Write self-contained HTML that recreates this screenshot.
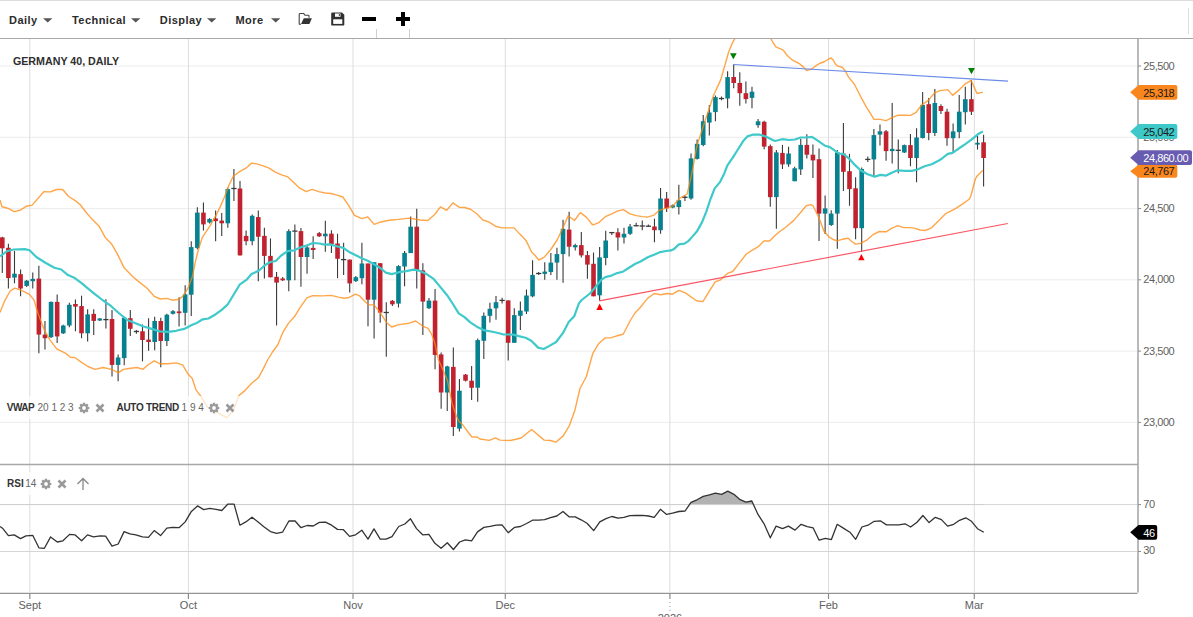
<!DOCTYPE html>
<html><head><meta charset="utf-8"><style>
html,body{margin:0;padding:0;background:#fff;}
body{width:1193px;height:617px;overflow:hidden;position:relative;font-family:"Liberation Sans",sans-serif;}
.ax{font-family:"Liberation Sans",sans-serif;font-size:11px;fill:#5f5f5f;letter-spacing:-0.45px;}
.tg{font-family:"Liberation Sans",sans-serif;font-size:11px;letter-spacing:-0.45px;}
.xl{font-family:"Liberation Sans",sans-serif;font-size:11px;fill:#606060;}
.tb{position:absolute;top:0;left:0;width:1193px;height:38px;border-top:1px solid #dbdddb;box-sizing:border-box;}
.mi{position:absolute;top:13.6px;font-size:11px;letter-spacing:0.45px;font-weight:bold;color:#2b2b2b;white-space:nowrap;}
.ar{position:absolute;top:18px;width:10px;height:5px;}
.bl{position:absolute;left:0;top:38px;width:1193px;height:1px;background:#a8a8a8;}
.lg{position:absolute;font-size:10px;white-space:nowrap;color:#333;background:transparent;}
.lg b{color:#333;letter-spacing:-0.5px;}
.lg.n{color:#666;}
</style></head><body>
<div class="tb"></div>
<svg width="1193" height="617" viewBox="0 0 1193 617" style="position:absolute;left:0;top:0"><defs><clipPath id="cm"><rect x="0" y="39" width="1137" height="425"/></clipPath><clipPath id="cr"><rect x="0" y="465" width="1137" height="127"/></clipPath></defs><line x1="0" y1="66" x2="1137" y2="66" stroke="#ececec" stroke-width="1"/><line x1="0" y1="137.3" x2="1137" y2="137.3" stroke="#ececec" stroke-width="1"/><line x1="0" y1="208.6" x2="1137" y2="208.6" stroke="#ececec" stroke-width="1"/><line x1="0" y1="279.8" x2="1137" y2="279.8" stroke="#ececec" stroke-width="1"/><line x1="0" y1="351.1" x2="1137" y2="351.1" stroke="#ececec" stroke-width="1"/><line x1="0" y1="422.4" x2="1137" y2="422.4" stroke="#ececec" stroke-width="1"/><line x1="29.8" y1="39" x2="29.8" y2="592" stroke="#dcdcdc" stroke-width="1"/><line x1="188.4" y1="39" x2="188.4" y2="592" stroke="#dcdcdc" stroke-width="1"/><line x1="353.0" y1="39" x2="353.0" y2="592" stroke="#dcdcdc" stroke-width="1"/><line x1="505.3" y1="39" x2="505.3" y2="592" stroke="#dcdcdc" stroke-width="1"/><line x1="669.9" y1="39" x2="669.9" y2="592" stroke="#dcdcdc" stroke-width="1"/><line x1="828.5" y1="39" x2="828.5" y2="592" stroke="#dcdcdc" stroke-width="1"/><line x1="974.3" y1="39" x2="974.3" y2="592" stroke="#dcdcdc" stroke-width="1"/><line x1="0" y1="504.6" x2="1137" y2="504.6" stroke="#d6d6d6" stroke-width="1"/><line x1="0" y1="551.5" x2="1137" y2="551.5" stroke="#d6d6d6" stroke-width="1"/><g clip-path="url(#cm)"><line x1="2.30" y1="236.7" x2="2.30" y2="272.9" stroke="#3a3a3a" stroke-width="1.1"/><rect x="0.00" y="237.4" width="4.6" height="10.9" fill="#c1222f"/><line x1="8.39" y1="243.7" x2="8.39" y2="288.5" stroke="#3a3a3a" stroke-width="1.1"/><rect x="6.09" y="247.8" width="4.6" height="30.3" fill="#c1222f"/><line x1="14.49" y1="250.9" x2="14.49" y2="283.3" stroke="#3a3a3a" stroke-width="1.1"/><rect x="12.19" y="273.7" width="4.6" height="3.9" fill="#07818f"/><line x1="20.59" y1="269.6" x2="20.59" y2="296.2" stroke="#3a3a3a" stroke-width="1.1"/><rect x="18.29" y="274.2" width="4.6" height="14.3" fill="#c1222f"/><line x1="26.68" y1="280.0" x2="26.68" y2="287.0" stroke="#3a3a3a" stroke-width="1.1"/><rect x="24.38" y="280.7" width="4.6" height="5.2" fill="#07818f"/><line x1="32.77" y1="272.4" x2="32.77" y2="288.5" stroke="#3a3a3a" stroke-width="1.1"/><rect x="30.47" y="278.9" width="4.6" height="2.3" fill="#07818f"/><line x1="38.87" y1="265.7" x2="38.87" y2="353.2" stroke="#3a3a3a" stroke-width="1.1"/><rect x="36.57" y="278.6" width="4.6" height="56.0" fill="#c1222f"/><line x1="44.96" y1="320.9" x2="44.96" y2="349.4" stroke="#3a3a3a" stroke-width="1.1"/><rect x="42.66" y="334.6" width="4.6" height="3.6" fill="#c1222f"/><line x1="51.06" y1="301.4" x2="51.06" y2="338.0" stroke="#3a3a3a" stroke-width="1.1"/><rect x="48.76" y="301.9" width="4.6" height="35.3" fill="#07818f"/><line x1="57.15" y1="294.4" x2="57.15" y2="342.9" stroke="#3a3a3a" stroke-width="1.1"/><rect x="54.85" y="301.9" width="4.6" height="34.5" fill="#c1222f"/><line x1="63.25" y1="324.7" x2="63.25" y2="334.0" stroke="#3a3a3a" stroke-width="1.1"/><rect x="60.95" y="325.5" width="4.6" height="7.8" fill="#07818f"/><line x1="69.34" y1="302.7" x2="69.34" y2="327.3" stroke="#3a3a3a" stroke-width="1.1"/><rect x="67.05" y="304.8" width="4.6" height="20.7" fill="#07818f"/><line x1="75.44" y1="299.6" x2="75.44" y2="331.2" stroke="#3a3a3a" stroke-width="1.1"/><rect x="73.14" y="304.0" width="4.6" height="2.6" fill="#c1222f"/><line x1="81.53" y1="295.7" x2="81.53" y2="338.2" stroke="#3a3a3a" stroke-width="1.1"/><rect x="79.23" y="306.1" width="4.6" height="27.2" fill="#c1222f"/><line x1="87.63" y1="309.2" x2="87.63" y2="341.6" stroke="#3a3a3a" stroke-width="1.1"/><rect x="85.33" y="314.4" width="4.6" height="18.9" fill="#07818f"/><line x1="93.72" y1="309.2" x2="93.72" y2="335.1" stroke="#3a3a3a" stroke-width="1.1"/><rect x="91.42" y="313.9" width="4.6" height="7.0" fill="#c1222f"/><line x1="99.82" y1="318.0" x2="99.82" y2="321.0" stroke="#3a3a3a" stroke-width="1.1"/><rect x="97.52" y="318.5" width="4.6" height="2.0" fill="#07818f"/><line x1="105.91" y1="299.2" x2="105.91" y2="328.4" stroke="#3a3a3a" stroke-width="1.1"/><line x1="103.31" y1="319.6" x2="108.51" y2="319.6" stroke="#3a3a3a" stroke-width="1.3"/><line x1="112.01" y1="309.9" x2="112.01" y2="376.6" stroke="#3a3a3a" stroke-width="1.1"/><rect x="109.71" y="319.0" width="4.6" height="45.9" fill="#c1222f"/><line x1="118.10" y1="354.6" x2="118.10" y2="381.3" stroke="#3a3a3a" stroke-width="1.1"/><rect x="115.80" y="357.5" width="4.6" height="7.4" fill="#07818f"/><line x1="124.20" y1="316.7" x2="124.20" y2="365.3" stroke="#3a3a3a" stroke-width="1.1"/><rect x="121.90" y="317.7" width="4.6" height="40.4" fill="#07818f"/><line x1="130.29" y1="309.9" x2="130.29" y2="336.1" stroke="#3a3a3a" stroke-width="1.1"/><rect x="127.99" y="318.2" width="4.6" height="10.6" fill="#c1222f"/><line x1="136.39" y1="330.0" x2="136.39" y2="333.8" stroke="#3a3a3a" stroke-width="1.1"/><line x1="133.79" y1="331.5" x2="138.99" y2="331.5" stroke="#3a3a3a" stroke-width="1.3"/><line x1="142.49" y1="324.5" x2="142.49" y2="361.4" stroke="#3a3a3a" stroke-width="1.1"/><rect x="140.19" y="331.3" width="4.6" height="8.7" fill="#c1222f"/><line x1="148.58" y1="318.2" x2="148.58" y2="350.7" stroke="#3a3a3a" stroke-width="1.1"/><rect x="146.28" y="339.6" width="4.6" height="2.4" fill="#c1222f"/><line x1="154.68" y1="316.7" x2="154.68" y2="350.2" stroke="#3a3a3a" stroke-width="1.1"/><rect x="152.38" y="321.0" width="4.6" height="21.0" fill="#07818f"/><line x1="160.77" y1="317.7" x2="160.77" y2="367.3" stroke="#3a3a3a" stroke-width="1.1"/><rect x="158.47" y="321.0" width="4.6" height="20.0" fill="#c1222f"/><line x1="166.87" y1="313.8" x2="166.87" y2="345.9" stroke="#3a3a3a" stroke-width="1.1"/><rect x="164.56" y="314.7" width="4.6" height="26.3" fill="#07818f"/><line x1="172.96" y1="310.0" x2="172.96" y2="314.5" stroke="#3a3a3a" stroke-width="1.1"/><rect x="170.66" y="311.2" width="4.6" height="2.6" fill="#07818f"/><line x1="179.06" y1="297.2" x2="179.06" y2="326.4" stroke="#3a3a3a" stroke-width="1.1"/><rect x="176.75" y="311.4" width="4.6" height="1.8" fill="#c1222f"/><line x1="185.15" y1="285.2" x2="185.15" y2="325.4" stroke="#3a3a3a" stroke-width="1.1"/><rect x="182.85" y="294.3" width="4.6" height="18.5" fill="#07818f"/><line x1="191.25" y1="241.2" x2="191.25" y2="316.1" stroke="#3a3a3a" stroke-width="1.1"/><rect x="188.94" y="247.1" width="4.6" height="47.6" fill="#07818f"/><line x1="197.34" y1="207.2" x2="197.34" y2="249.2" stroke="#3a3a3a" stroke-width="1.1"/><rect x="195.04" y="212.6" width="4.6" height="35.3" fill="#07818f"/><line x1="203.44" y1="202.4" x2="203.44" y2="230.5" stroke="#3a3a3a" stroke-width="1.1"/><rect x="201.13" y="212.6" width="4.6" height="11.8" fill="#c1222f"/><line x1="209.53" y1="218.0" x2="209.53" y2="223.5" stroke="#3a3a3a" stroke-width="1.1"/><rect x="207.23" y="219.0" width="4.6" height="3.5" fill="#07818f"/><line x1="215.62" y1="210.5" x2="215.62" y2="241.2" stroke="#3a3a3a" stroke-width="1.1"/><rect x="213.32" y="218.5" width="4.6" height="2.6" fill="#c1222f"/><line x1="221.72" y1="213.1" x2="221.72" y2="235.9" stroke="#3a3a3a" stroke-width="1.1"/><rect x="219.42" y="220.6" width="4.6" height="2.7" fill="#c1222f"/><line x1="227.81" y1="187.7" x2="227.81" y2="227.8" stroke="#3a3a3a" stroke-width="1.1"/><rect x="225.51" y="189.1" width="4.6" height="34.2" fill="#07818f"/><line x1="233.91" y1="169.0" x2="233.91" y2="201.1" stroke="#3a3a3a" stroke-width="1.1"/><line x1="231.31" y1="188.5" x2="236.51" y2="188.5" stroke="#3a3a3a" stroke-width="1.3"/><line x1="240.00" y1="181.0" x2="240.00" y2="255.4" stroke="#3a3a3a" stroke-width="1.1"/><rect x="237.70" y="188.5" width="4.6" height="66.9" fill="#c1222f"/><line x1="246.10" y1="230.5" x2="246.10" y2="245.2" stroke="#3a3a3a" stroke-width="1.1"/><rect x="243.80" y="235.9" width="4.6" height="5.3" fill="#c1222f"/><line x1="252.19" y1="214.5" x2="252.19" y2="245.2" stroke="#3a3a3a" stroke-width="1.1"/><rect x="249.89" y="215.8" width="4.6" height="25.4" fill="#07818f"/><line x1="258.29" y1="210.5" x2="258.29" y2="281.3" stroke="#3a3a3a" stroke-width="1.1"/><rect x="255.99" y="217.1" width="4.6" height="19.6" fill="#c1222f"/><line x1="264.38" y1="227.8" x2="264.38" y2="278.6" stroke="#3a3a3a" stroke-width="1.1"/><rect x="262.08" y="235.9" width="4.6" height="20.0" fill="#c1222f"/><line x1="270.48" y1="238.5" x2="270.48" y2="277.3" stroke="#3a3a3a" stroke-width="1.1"/><rect x="268.18" y="255.9" width="4.6" height="21.4" fill="#c1222f"/><line x1="276.57" y1="272.0" x2="276.57" y2="325.4" stroke="#3a3a3a" stroke-width="1.1"/><rect x="274.27" y="276.8" width="4.6" height="5.8" fill="#c1222f"/><line x1="282.67" y1="277.0" x2="282.67" y2="281.0" stroke="#3a3a3a" stroke-width="1.1"/><rect x="280.37" y="278.5" width="4.6" height="1.8" fill="#c1222f"/><line x1="288.76" y1="229.3" x2="288.76" y2="291.2" stroke="#3a3a3a" stroke-width="1.1"/><rect x="286.46" y="231.1" width="4.6" height="49.2" fill="#07818f"/><line x1="294.86" y1="224.6" x2="294.86" y2="280.3" stroke="#3a3a3a" stroke-width="1.1"/><line x1="292.26" y1="231.1" x2="297.46" y2="231.1" stroke="#3a3a3a" stroke-width="1.3"/><line x1="300.95" y1="228.0" x2="300.95" y2="286.8" stroke="#3a3a3a" stroke-width="1.1"/><rect x="298.65" y="231.1" width="4.6" height="25.9" fill="#c1222f"/><line x1="307.05" y1="246.1" x2="307.05" y2="273.8" stroke="#3a3a3a" stroke-width="1.1"/><rect x="304.75" y="247.4" width="4.6" height="9.6" fill="#07818f"/><line x1="313.14" y1="236.3" x2="313.14" y2="259.1" stroke="#3a3a3a" stroke-width="1.1"/><rect x="310.84" y="247.9" width="4.6" height="2.1" fill="#c1222f"/><line x1="319.24" y1="232.0" x2="319.24" y2="237.0" stroke="#3a3a3a" stroke-width="1.1"/><rect x="316.94" y="233.2" width="4.6" height="3.1" fill="#c1222f"/><line x1="325.33" y1="220.7" x2="325.33" y2="251.8" stroke="#3a3a3a" stroke-width="1.1"/><rect x="323.03" y="233.7" width="4.6" height="2.6" fill="#07818f"/><line x1="331.43" y1="230.3" x2="331.43" y2="253.1" stroke="#3a3a3a" stroke-width="1.1"/><rect x="329.13" y="233.7" width="4.6" height="10.3" fill="#c1222f"/><line x1="337.52" y1="233.7" x2="337.52" y2="278.2" stroke="#3a3a3a" stroke-width="1.1"/><rect x="335.22" y="243.5" width="4.6" height="15.3" fill="#c1222f"/><line x1="343.62" y1="242.7" x2="343.62" y2="275.1" stroke="#3a3a3a" stroke-width="1.1"/><line x1="341.02" y1="259.6" x2="346.22" y2="259.6" stroke="#3a3a3a" stroke-width="1.3"/><line x1="349.71" y1="259.6" x2="349.71" y2="292.5" stroke="#3a3a3a" stroke-width="1.1"/><rect x="347.41" y="259.6" width="4.6" height="23.8" fill="#c1222f"/><line x1="355.81" y1="276.0" x2="355.81" y2="282.0" stroke="#3a3a3a" stroke-width="1.1"/><rect x="353.51" y="277.2" width="4.6" height="3.9" fill="#07818f"/><line x1="361.90" y1="242.7" x2="361.90" y2="284.2" stroke="#3a3a3a" stroke-width="1.1"/><rect x="359.60" y="263.5" width="4.6" height="14.7" fill="#07818f"/><line x1="368.00" y1="263.5" x2="368.00" y2="326.2" stroke="#3a3a3a" stroke-width="1.1"/><rect x="365.70" y="263.5" width="4.6" height="36.2" fill="#c1222f"/><line x1="374.09" y1="262.2" x2="374.09" y2="338.6" stroke="#3a3a3a" stroke-width="1.1"/><rect x="371.79" y="262.2" width="4.6" height="37.5" fill="#07818f"/><line x1="380.19" y1="263.2" x2="380.19" y2="322.7" stroke="#3a3a3a" stroke-width="1.1"/><rect x="377.89" y="263.2" width="4.6" height="49.4" fill="#c1222f"/><line x1="386.28" y1="302.2" x2="386.28" y2="356.7" stroke="#3a3a3a" stroke-width="1.1"/><line x1="383.68" y1="312.5" x2="388.88" y2="312.5" stroke="#3a3a3a" stroke-width="1.3"/><line x1="392.38" y1="300.0" x2="392.38" y2="306.0" stroke="#3a3a3a" stroke-width="1.1"/><rect x="390.08" y="300.8" width="4.6" height="3.5" fill="#c1222f"/><line x1="398.48" y1="265.2" x2="398.48" y2="307.5" stroke="#3a3a3a" stroke-width="1.1"/><rect x="396.18" y="266.1" width="4.6" height="37.5" fill="#07818f"/><line x1="404.57" y1="251.0" x2="404.57" y2="286.2" stroke="#3a3a3a" stroke-width="1.1"/><rect x="402.27" y="252.9" width="4.6" height="13.6" fill="#07818f"/><line x1="410.67" y1="216.5" x2="410.67" y2="253.1" stroke="#3a3a3a" stroke-width="1.1"/><rect x="408.37" y="226.7" width="4.6" height="26.4" fill="#07818f"/><line x1="416.76" y1="208.8" x2="416.76" y2="288.5" stroke="#3a3a3a" stroke-width="1.1"/><rect x="414.46" y="226.7" width="4.6" height="43.3" fill="#c1222f"/><line x1="422.86" y1="263.2" x2="422.86" y2="335.1" stroke="#3a3a3a" stroke-width="1.1"/><rect x="420.56" y="270.4" width="4.6" height="31.2" fill="#c1222f"/><line x1="428.95" y1="297.9" x2="428.95" y2="309.0" stroke="#3a3a3a" stroke-width="1.1"/><rect x="426.65" y="300.6" width="4.6" height="7.6" fill="#07818f"/><line x1="435.05" y1="289.1" x2="435.05" y2="369.2" stroke="#3a3a3a" stroke-width="1.1"/><rect x="432.75" y="300.6" width="4.6" height="54.3" fill="#c1222f"/><line x1="441.14" y1="352.6" x2="441.14" y2="408.8" stroke="#3a3a3a" stroke-width="1.1"/><rect x="438.84" y="354.4" width="4.6" height="38.1" fill="#c1222f"/><line x1="447.24" y1="365.8" x2="447.24" y2="411.1" stroke="#3a3a3a" stroke-width="1.1"/><rect x="444.94" y="366.4" width="4.6" height="26.1" fill="#07818f"/><line x1="453.33" y1="347.6" x2="453.33" y2="436.1" stroke="#3a3a3a" stroke-width="1.1"/><rect x="451.03" y="366.9" width="4.6" height="60.1" fill="#c1222f"/><line x1="459.43" y1="378.9" x2="459.43" y2="431.5" stroke="#3a3a3a" stroke-width="1.1"/><rect x="457.12" y="390.7" width="4.6" height="37.9" fill="#07818f"/><line x1="465.52" y1="374.0" x2="465.52" y2="381.5" stroke="#3a3a3a" stroke-width="1.1"/><rect x="463.22" y="374.6" width="4.6" height="6.1" fill="#c1222f"/><line x1="471.62" y1="366.0" x2="471.62" y2="400.0" stroke="#3a3a3a" stroke-width="1.1"/><rect x="469.31" y="380.7" width="4.6" height="7.1" fill="#c1222f"/><line x1="477.71" y1="338.5" x2="477.71" y2="401.8" stroke="#3a3a3a" stroke-width="1.1"/><rect x="475.41" y="340.1" width="4.6" height="47.6" fill="#07818f"/><line x1="483.81" y1="312.4" x2="483.81" y2="358.9" stroke="#3a3a3a" stroke-width="1.1"/><rect x="481.50" y="315.8" width="4.6" height="25.0" fill="#07818f"/><line x1="489.90" y1="302.7" x2="489.90" y2="322.6" stroke="#3a3a3a" stroke-width="1.1"/><rect x="487.60" y="308.8" width="4.6" height="7.0" fill="#07818f"/><line x1="496.00" y1="295.9" x2="496.00" y2="319.7" stroke="#3a3a3a" stroke-width="1.1"/><rect x="493.69" y="302.2" width="4.6" height="6.1" fill="#07818f"/><line x1="502.09" y1="297.7" x2="502.09" y2="303.4" stroke="#3a3a3a" stroke-width="1.1"/><line x1="499.49" y1="300.4" x2="504.69" y2="300.4" stroke="#3a3a3a" stroke-width="1.3"/><line x1="508.19" y1="300.4" x2="508.19" y2="360.5" stroke="#3a3a3a" stroke-width="1.1"/><rect x="505.88" y="300.4" width="4.6" height="42.4" fill="#c1222f"/><line x1="514.28" y1="308.3" x2="514.28" y2="342.8" stroke="#3a3a3a" stroke-width="1.1"/><rect x="511.98" y="315.1" width="4.6" height="27.7" fill="#07818f"/><line x1="520.37" y1="301.5" x2="520.37" y2="329.9" stroke="#3a3a3a" stroke-width="1.1"/><rect x="518.07" y="310.6" width="4.6" height="5.2" fill="#07818f"/><line x1="526.47" y1="289.5" x2="526.47" y2="314.0" stroke="#3a3a3a" stroke-width="1.1"/><rect x="524.17" y="295.5" width="4.6" height="16.0" fill="#07818f"/><line x1="532.56" y1="260.3" x2="532.56" y2="297.3" stroke="#3a3a3a" stroke-width="1.1"/><rect x="530.26" y="274.9" width="4.6" height="21.4" fill="#07818f"/><line x1="538.66" y1="272.0" x2="538.66" y2="275.0" stroke="#3a3a3a" stroke-width="1.1"/><line x1="536.06" y1="273.5" x2="541.26" y2="273.5" stroke="#3a3a3a" stroke-width="1.3"/><line x1="544.75" y1="262.3" x2="544.75" y2="279.8" stroke="#3a3a3a" stroke-width="1.1"/><rect x="542.45" y="271.6" width="4.6" height="2.3" fill="#07818f"/><line x1="550.85" y1="252.9" x2="550.85" y2="274.9" stroke="#3a3a3a" stroke-width="1.1"/><rect x="548.55" y="262.6" width="4.6" height="9.4" fill="#07818f"/><line x1="556.94" y1="247.7" x2="556.94" y2="279.8" stroke="#3a3a3a" stroke-width="1.1"/><rect x="554.64" y="254.1" width="4.6" height="8.5" fill="#07818f"/><line x1="563.04" y1="219.8" x2="563.04" y2="282.7" stroke="#3a3a3a" stroke-width="1.1"/><rect x="560.74" y="228.8" width="4.6" height="25.3" fill="#07818f"/><line x1="569.13" y1="211.7" x2="569.13" y2="256.4" stroke="#3a3a3a" stroke-width="1.1"/><rect x="566.83" y="229.6" width="4.6" height="17.1" fill="#c1222f"/><line x1="575.23" y1="243.8" x2="575.23" y2="250.6" stroke="#3a3a3a" stroke-width="1.1"/><rect x="572.93" y="245.1" width="4.6" height="2.2" fill="#07818f"/><line x1="581.32" y1="232.1" x2="581.32" y2="257.4" stroke="#3a3a3a" stroke-width="1.1"/><rect x="579.02" y="245.1" width="4.6" height="10.3" fill="#c1222f"/><line x1="587.42" y1="251.0" x2="587.42" y2="278.8" stroke="#3a3a3a" stroke-width="1.1"/><rect x="585.12" y="255.1" width="4.6" height="9.5" fill="#c1222f"/><line x1="593.51" y1="252.5" x2="593.51" y2="296.3" stroke="#3a3a3a" stroke-width="1.1"/><rect x="591.22" y="263.8" width="4.6" height="32.5" fill="#c1222f"/><line x1="599.61" y1="247.1" x2="599.61" y2="300.8" stroke="#3a3a3a" stroke-width="1.1"/><rect x="597.31" y="257.4" width="4.6" height="37.9" fill="#07818f"/><line x1="605.70" y1="230.7" x2="605.70" y2="265.2" stroke="#3a3a3a" stroke-width="1.1"/><rect x="603.40" y="240.5" width="4.6" height="17.5" fill="#07818f"/><line x1="611.80" y1="232.0" x2="611.80" y2="235.0" stroke="#3a3a3a" stroke-width="1.1"/><line x1="609.20" y1="232.6" x2="614.40" y2="232.6" stroke="#3a3a3a" stroke-width="1.3"/><line x1="617.89" y1="228.3" x2="617.89" y2="250.6" stroke="#3a3a3a" stroke-width="1.1"/><rect x="615.60" y="232.3" width="4.6" height="5.2" fill="#c1222f"/><line x1="623.99" y1="227.7" x2="623.99" y2="243.6" stroke="#3a3a3a" stroke-width="1.1"/><rect x="621.69" y="233.8" width="4.6" height="3.7" fill="#07818f"/><line x1="630.08" y1="224.1" x2="630.08" y2="235.0" stroke="#3a3a3a" stroke-width="1.1"/><rect x="627.78" y="226.5" width="4.6" height="7.3" fill="#07818f"/><line x1="636.18" y1="222.7" x2="636.18" y2="226.2" stroke="#3a3a3a" stroke-width="1.1"/><line x1="633.58" y1="225.7" x2="638.78" y2="225.7" stroke="#3a3a3a" stroke-width="1.3"/><line x1="642.27" y1="220.4" x2="642.27" y2="230.2" stroke="#3a3a3a" stroke-width="1.1"/><line x1="639.67" y1="226.0" x2="644.88" y2="226.0" stroke="#3a3a3a" stroke-width="1.3"/><line x1="648.37" y1="224.5" x2="648.37" y2="226.7" stroke="#3a3a3a" stroke-width="1.1"/><line x1="645.77" y1="226.2" x2="650.97" y2="226.2" stroke="#3a3a3a" stroke-width="1.3"/><line x1="654.46" y1="218.7" x2="654.46" y2="242.3" stroke="#3a3a3a" stroke-width="1.1"/><rect x="652.16" y="226.5" width="4.6" height="3.7" fill="#c1222f"/><line x1="660.56" y1="188.1" x2="660.56" y2="233.8" stroke="#3a3a3a" stroke-width="1.1"/><rect x="658.26" y="198.5" width="4.6" height="31.7" fill="#07818f"/><line x1="666.65" y1="192.0" x2="666.65" y2="211.9" stroke="#3a3a3a" stroke-width="1.1"/><rect x="664.36" y="198.5" width="4.6" height="9.8" fill="#c1222f"/><line x1="672.75" y1="204.6" x2="672.75" y2="208.3" stroke="#3a3a3a" stroke-width="1.1"/><rect x="670.45" y="205.3" width="4.6" height="2.2" fill="#07818f"/><line x1="678.84" y1="184.7" x2="678.84" y2="214.4" stroke="#3a3a3a" stroke-width="1.1"/><rect x="676.54" y="200.2" width="4.6" height="6.9" fill="#07818f"/><line x1="684.94" y1="195.4" x2="684.94" y2="201.0" stroke="#3a3a3a" stroke-width="1.1"/><line x1="682.34" y1="197.3" x2="687.54" y2="197.3" stroke="#3a3a3a" stroke-width="1.3"/><line x1="691.03" y1="153.5" x2="691.03" y2="199.8" stroke="#3a3a3a" stroke-width="1.1"/><rect x="688.74" y="158.4" width="4.6" height="40.1" fill="#07818f"/><line x1="697.13" y1="139.4" x2="697.13" y2="159.6" stroke="#3a3a3a" stroke-width="1.1"/><rect x="694.83" y="143.8" width="4.6" height="15.1" fill="#07818f"/><line x1="703.22" y1="115.1" x2="703.22" y2="146.2" stroke="#3a3a3a" stroke-width="1.1"/><rect x="700.92" y="121.2" width="4.6" height="23.8" fill="#07818f"/><line x1="709.32" y1="105.1" x2="709.32" y2="135.4" stroke="#3a3a3a" stroke-width="1.1"/><rect x="707.02" y="112.5" width="4.6" height="10.1" fill="#07818f"/><line x1="715.41" y1="95.6" x2="715.41" y2="121.3" stroke="#3a3a3a" stroke-width="1.1"/><rect x="713.12" y="97.1" width="4.6" height="15.0" fill="#07818f"/><line x1="721.51" y1="96.5" x2="721.51" y2="100.3" stroke="#3a3a3a" stroke-width="1.1"/><line x1="718.91" y1="98.5" x2="724.11" y2="98.5" stroke="#3a3a3a" stroke-width="1.3"/><line x1="727.60" y1="71.3" x2="727.60" y2="108.2" stroke="#3a3a3a" stroke-width="1.1"/><rect x="725.30" y="77.1" width="4.6" height="21.4" fill="#07818f"/><line x1="733.70" y1="64.5" x2="733.70" y2="88.3" stroke="#3a3a3a" stroke-width="1.1"/><rect x="731.40" y="77.0" width="4.6" height="6.0" fill="#c1222f"/><line x1="739.79" y1="72.2" x2="739.79" y2="105.7" stroke="#3a3a3a" stroke-width="1.1"/><rect x="737.50" y="82.9" width="4.6" height="10.3" fill="#c1222f"/><line x1="745.89" y1="81.6" x2="745.89" y2="103.4" stroke="#3a3a3a" stroke-width="1.1"/><rect x="743.59" y="93.2" width="4.6" height="5.9" fill="#c1222f"/><line x1="751.98" y1="86.8" x2="751.98" y2="108.2" stroke="#3a3a3a" stroke-width="1.1"/><rect x="749.68" y="91.7" width="4.6" height="6.2" fill="#07818f"/><line x1="758.08" y1="118.9" x2="758.08" y2="127.7" stroke="#3a3a3a" stroke-width="1.1"/><rect x="755.78" y="121.3" width="4.6" height="3.9" fill="#07818f"/><line x1="764.17" y1="120.7" x2="764.17" y2="149.3" stroke="#3a3a3a" stroke-width="1.1"/><rect x="761.88" y="121.8" width="4.6" height="24.8" fill="#c1222f"/><line x1="770.27" y1="144.5" x2="770.27" y2="206.8" stroke="#3a3a3a" stroke-width="1.1"/><rect x="767.97" y="146.1" width="4.6" height="51.0" fill="#c1222f"/><line x1="776.36" y1="150.1" x2="776.36" y2="228.8" stroke="#3a3a3a" stroke-width="1.1"/><rect x="774.06" y="152.4" width="4.6" height="44.7" fill="#07818f"/><line x1="782.46" y1="144.9" x2="782.46" y2="169.0" stroke="#3a3a3a" stroke-width="1.1"/><rect x="780.16" y="152.9" width="4.6" height="11.5" fill="#c1222f"/><line x1="788.55" y1="146.7" x2="788.55" y2="166.7" stroke="#3a3a3a" stroke-width="1.1"/><rect x="786.25" y="153.5" width="4.6" height="10.9" fill="#07818f"/><line x1="794.65" y1="166.7" x2="794.65" y2="181.2" stroke="#3a3a3a" stroke-width="1.1"/><rect x="792.35" y="168.3" width="4.6" height="12.9" fill="#07818f"/><line x1="800.74" y1="138.8" x2="800.74" y2="175.1" stroke="#3a3a3a" stroke-width="1.1"/><rect x="798.44" y="144.9" width="4.6" height="24.5" fill="#07818f"/><line x1="806.84" y1="134.3" x2="806.84" y2="158.5" stroke="#3a3a3a" stroke-width="1.1"/><rect x="804.54" y="144.9" width="4.6" height="9.8" fill="#c1222f"/><line x1="812.93" y1="144.5" x2="812.93" y2="178.0" stroke="#3a3a3a" stroke-width="1.1"/><rect x="810.63" y="154.7" width="4.6" height="5.7" fill="#c1222f"/><line x1="819.03" y1="148.6" x2="819.03" y2="240.9" stroke="#3a3a3a" stroke-width="1.1"/><rect x="816.73" y="159.2" width="4.6" height="54.4" fill="#c1222f"/><line x1="825.12" y1="195.5" x2="825.12" y2="234.0" stroke="#3a3a3a" stroke-width="1.1"/><rect x="822.82" y="208.4" width="4.6" height="5.2" fill="#07818f"/><line x1="831.22" y1="210.2" x2="831.22" y2="226.1" stroke="#3a3a3a" stroke-width="1.1"/><rect x="828.92" y="213.6" width="4.6" height="11.4" fill="#07818f"/><line x1="837.31" y1="150.1" x2="837.31" y2="248.8" stroke="#3a3a3a" stroke-width="1.1"/><rect x="835.01" y="152.4" width="4.6" height="61.2" fill="#07818f"/><line x1="843.41" y1="123.0" x2="843.41" y2="191.0" stroke="#3a3a3a" stroke-width="1.1"/><rect x="841.11" y="153.5" width="4.6" height="18.3" fill="#c1222f"/><line x1="849.50" y1="153.9" x2="849.50" y2="205.7" stroke="#3a3a3a" stroke-width="1.1"/><rect x="847.20" y="171.2" width="4.6" height="17.9" fill="#c1222f"/><line x1="855.60" y1="177.3" x2="855.60" y2="239.3" stroke="#3a3a3a" stroke-width="1.1"/><rect x="853.30" y="188.3" width="4.6" height="39.9" fill="#c1222f"/><line x1="861.69" y1="167.6" x2="861.69" y2="251.7" stroke="#3a3a3a" stroke-width="1.1"/><rect x="859.39" y="169.0" width="4.6" height="59.2" fill="#07818f"/><line x1="867.79" y1="156.5" x2="867.79" y2="162.0" stroke="#3a3a3a" stroke-width="1.1"/><line x1="865.19" y1="159.4" x2="870.39" y2="159.4" stroke="#3a3a3a" stroke-width="1.3"/><line x1="873.88" y1="129.1" x2="873.88" y2="175.9" stroke="#3a3a3a" stroke-width="1.1"/><rect x="871.58" y="135.1" width="4.6" height="24.3" fill="#07818f"/><line x1="879.98" y1="124.4" x2="879.98" y2="145.6" stroke="#3a3a3a" stroke-width="1.1"/><rect x="877.68" y="131.3" width="4.6" height="3.3" fill="#07818f"/><line x1="886.07" y1="129.9" x2="886.07" y2="160.8" stroke="#3a3a3a" stroke-width="1.1"/><rect x="883.77" y="131.3" width="4.6" height="19.8" fill="#c1222f"/><line x1="892.17" y1="102.9" x2="892.17" y2="163.5" stroke="#3a3a3a" stroke-width="1.1"/><rect x="889.87" y="148.9" width="4.6" height="2.2" fill="#07818f"/><line x1="898.26" y1="139.5" x2="898.26" y2="173.2" stroke="#3a3a3a" stroke-width="1.1"/><line x1="895.66" y1="150.3" x2="900.86" y2="150.3" stroke="#3a3a3a" stroke-width="1.3"/><line x1="904.36" y1="144.5" x2="904.36" y2="153.0" stroke="#3a3a3a" stroke-width="1.1"/><rect x="902.06" y="145.1" width="4.6" height="7.4" fill="#07818f"/><line x1="910.45" y1="134.0" x2="910.45" y2="166.3" stroke="#3a3a3a" stroke-width="1.1"/><rect x="908.15" y="145.1" width="4.6" height="12.9" fill="#c1222f"/><line x1="916.55" y1="128.3" x2="916.55" y2="182.2" stroke="#3a3a3a" stroke-width="1.1"/><rect x="914.25" y="137.5" width="4.6" height="20.5" fill="#07818f"/><line x1="922.64" y1="92.0" x2="922.64" y2="138.5" stroke="#3a3a3a" stroke-width="1.1"/><rect x="920.34" y="104.9" width="4.6" height="33.1" fill="#07818f"/><line x1="928.74" y1="98.0" x2="928.74" y2="140.3" stroke="#3a3a3a" stroke-width="1.1"/><rect x="926.44" y="104.2" width="4.6" height="28.8" fill="#c1222f"/><line x1="934.83" y1="89.0" x2="934.83" y2="136.0" stroke="#3a3a3a" stroke-width="1.1"/><rect x="932.53" y="103.0" width="4.6" height="30.0" fill="#07818f"/><line x1="940.93" y1="104.2" x2="940.93" y2="114.0" stroke="#3a3a3a" stroke-width="1.1"/><rect x="938.63" y="106.0" width="4.6" height="5.0" fill="#c1222f"/><line x1="947.02" y1="108.8" x2="947.02" y2="145.7" stroke="#3a3a3a" stroke-width="1.1"/><rect x="944.72" y="111.7" width="4.6" height="26.5" fill="#c1222f"/><line x1="953.12" y1="123.5" x2="953.12" y2="153.0" stroke="#3a3a3a" stroke-width="1.1"/><rect x="950.82" y="131.4" width="4.6" height="6.8" fill="#07818f"/><line x1="959.21" y1="95.1" x2="959.21" y2="138.2" stroke="#3a3a3a" stroke-width="1.1"/><rect x="956.91" y="111.7" width="4.6" height="20.4" fill="#07818f"/><line x1="965.31" y1="86.8" x2="965.31" y2="124.6" stroke="#3a3a3a" stroke-width="1.1"/><rect x="963.01" y="99.2" width="4.6" height="13.0" fill="#07818f"/><line x1="971.40" y1="80.0" x2="971.40" y2="114.9" stroke="#3a3a3a" stroke-width="1.1"/><rect x="969.10" y="99.2" width="4.6" height="12.5" fill="#c1222f"/><line x1="977.50" y1="136.0" x2="977.50" y2="149.6" stroke="#3a3a3a" stroke-width="1.1"/><rect x="975.20" y="142.8" width="4.6" height="1.8" fill="#07818f"/><line x1="983.59" y1="134.8" x2="983.59" y2="186.5" stroke="#3a3a3a" stroke-width="1.1"/><rect x="981.29" y="142.3" width="4.6" height="15.7" fill="#c1222f"/><polyline points="0.0,199.9 1.9,206.7 7.8,208.2 14.1,211.6 19.9,210.3 26.3,206.3 32.1,205.1 43.8,191.7 50.6,191.9 56.4,189.5 62.7,189.5 68.6,196.5 74.9,200.4 80.3,204.8 86.0,212.2 90.0,216.9 98.9,225.9 105.2,237.4 111.4,243.7 117.6,254.4 123.9,267.4 132.8,276.7 138.1,281.1 147.1,288.3 154.2,296.3 160.4,299.0 166.7,298.4 172.0,300.2 179.4,299.3 183.7,295.2 188.1,287.9 192.5,276.2 195.4,261.7 198.3,250.0 202.3,237.4 210.0,225.9 215.8,215.7 220.2,206.9 224.6,196.7 229.0,185.0 233.3,176.3 239.2,171.9 245.8,168.2 251.6,163.1 256.7,163.9 263.3,165.8 269.1,168.2 274.9,171.9 281.5,174.8 287.3,176.6 293.2,182.1 299.7,188.2 306.3,191.6 312.1,189.4 318.7,191.6 325.3,193.0 331.1,193.5 337.0,195.2 342.8,197.0 348.6,205.4 354.5,215.4 361.8,218.6 367.6,216.8 374.2,224.4 380.0,222.2 385.0,221.0 391.2,220.0 398.7,219.4 409.7,218.1 420.0,220.0 427.9,220.5 434.7,214.5 440.4,206.9 446.7,210.3 452.9,202.9 459.1,207.2 464.8,207.5 471.0,209.5 476.7,213.7 482.9,220.0 489.2,222.2 495.4,226.2 501.7,227.9 514.1,227.9 519.8,234.1 526.0,240.4 531.7,252.3 535.0,255.3 538.7,260.0 544.0,257.4 550.8,249.5 557.1,240.0 562.9,227.9 568.2,215.8 574.5,220.5 580.3,212.6 586.6,217.4 592.4,224.7 595.0,224.2 598.7,222.7 605.3,216.7 611.3,214.1 617.3,211.1 623.4,209.6 629.9,213.9 636.4,215.6 642.4,216.6 647.5,217.1 654.0,215.1 659.6,210.1 666.7,208.1 672.7,206.1 680.0,198.0 687.2,194.0 692.1,172.1 697.0,145.4 704.2,123.5 708.7,110.0 713.4,95.7 720.8,79.6 724.8,65.5 728.8,51.5 732.2,43.4 735.1,38.3 740.0,25.0 765.0,25.0 770.8,38.3 773.1,42.7 775.8,46.8 780.5,48.8 783.2,50.1 787.2,55.5 792.5,60.2 799.2,63.5 803.3,66.9 806.6,70.5 811.3,69.2 815.3,66.2 819.4,63.5 824.7,61.5 830.8,57.9 833.5,60.2 835.0,63.5 837.4,65.9 842.3,67.2 845.9,72.0 848.4,76.9 854.4,84.2 860.5,96.3 866.6,107.3 873.9,119.2 880.0,119.4 886.1,120.6 892.1,117.6 898.2,115.2 904.3,115.2 910.4,115.4 915.8,112.7 921.9,104.8 928.0,100.6 934.7,92.7 940.0,90.6 947.8,89.6 952.6,95.4 959.5,89.6 965.3,83.8 971.1,80.4 974.0,86.7 977.0,93.5 982.8,92.1" fill="none" stroke="#ff8a10" stroke-opacity="0.76" stroke-width="1.4" stroke-linejoin="round"/><polyline points="0.0,312.6 4.5,301.2 10.2,291.0 14.7,288.1 21.5,290.3 29.5,294.4 34.0,300.1 38.5,314.8 44.2,329.6 49.9,339.8 56.7,348.8 65.8,353.4 70.3,357.2 74.8,357.5 81.6,362.4 88.0,366.5 95.0,369.4 103.1,367.5 111.2,369.4 118.5,372.7 123.4,369.4 130.7,368.3 137.2,367.5 142.8,369.4 148.5,364.5 154.2,360.8 159.8,363.7 168.0,363.7 176.1,362.9 182.6,364.9 188.2,374.3 192.1,378.2 196.1,390.1 200.1,395.2 207.5,407.1 216.5,412.2 226.8,417.9 233.6,410.0 238.7,395.8 244.9,390.6 251.7,383.3 258.5,377.6 263.1,369.1 267.6,360.0 272.5,352.0 277.7,345.0 282.7,332.7 288.4,323.4 294.8,316.3 299.8,307.8 306.9,297.8 312.6,295.6 322.6,295.9 331.2,295.4 338.3,297.1 344.0,298.2 348.3,297.8 355.4,294.2 359.7,295.9 364.7,301.3 368.9,304.9 373.9,304.9 378.2,309.9 383.9,318.4 386.7,322.7 391.7,327.0 398.9,324.6 409.2,323.2 415.7,321.0 422.3,325.8 428.1,328.3 431.5,334.0 434.5,342.0 438.2,358.9 444.0,372.5 447.4,380.3 452.2,403.7 456.1,415.3 459.0,421.2 462.9,425.1 468.0,432.0 471.7,436.7 477.5,437.2 480.0,439.0 489.3,440.4 495.5,437.9 500.0,440.1 510.5,440.5 521.1,438.0 531.6,429.5 544.2,440.1 550.6,440.5 555.8,442.2 563.2,435.9 569.5,425.3 574.8,410.6 580.0,388.5 586.4,376.5 592.7,353.7 599.0,343.2 605.3,337.9 610.6,337.9 616.9,335.8 623.2,334.3 630.6,320.0 635.0,313.0 640.0,307.8 647.8,298.1 654.3,293.5 660.7,294.8 667.2,293.5 672.4,294.2 678.9,290.3 685.4,292.9 696.4,300.7 702.9,301.6 708.7,292.2 715.2,281.9 720.4,279.9 727.5,273.4 732.7,271.5 739.8,262.4 746.3,254.0 751.5,250.7 758.0,246.9 763.8,241.0 769.6,241.0 774.8,235.8 780.0,231.3 785.8,227.2 793.8,220.4 800.6,212.5 806.2,205.7 810.8,204.6 813.0,205.7 816.4,212.5 820.0,220.5 823.9,231.0 828.8,236.8 833.6,239.7 837.5,240.7 842.4,239.3 848.2,238.3 852.1,241.7 855.5,244.1 860.9,243.2 866.7,240.2 872.5,234.9 879.3,231.5 886.1,231.8 892.0,228.1 897.8,225.6 903.7,227.6 909.5,227.6 914.4,228.1 920.0,230.0 925.0,230.5 931.1,228.2 938.4,220.9 945.7,213.6 955.5,208.7 962.7,203.9 969.5,199.0 971.1,195.0 974.0,184.0 975.4,179.0 977.0,176.2 982.8,170.3" fill="none" stroke="#ff8a10" stroke-opacity="0.76" stroke-width="1.4" stroke-linejoin="round"/><polyline points="0.0,256.3 6.8,251.3 13.6,249.5 24.9,249.1 29.5,250.2 36.3,257.0 45.4,262.7 54.4,267.7 61.2,269.5 68.0,275.1 74.8,278.1 81.6,283.1 88.4,288.8 95.2,294.4 103.1,300.5 111.2,306.2 119.3,313.5 127.4,320.0 135.5,323.2 143.6,326.5 151.7,328.9 159.8,331.4 168.0,331.8 176.1,330.8 184.1,328.9 192.3,324.8 196.9,322.9 202.7,319.3 208.5,318.5 215.8,314.2 221.7,309.8 227.5,304.7 233.3,295.2 239.9,284.3 246.4,279.9 251.5,274.1 255.0,272.4 259.4,270.2 264.8,265.3 270.3,262.0 275.7,261.0 281.2,255.5 287.7,251.2 294.2,250.3 300.8,247.3 307.3,245.2 312.8,243.0 319.3,243.5 324.7,244.6 330.2,244.4 336.7,246.2 343.3,247.9 348.7,251.7 355.3,255.0 361.8,258.2 368.3,261.0 374.9,264.8 380.3,268.0 385.8,272.6 391.7,274.1 398.9,272.2 406.2,271.1 413.5,269.7 419.4,270.7 426.6,274.1 433.9,279.2 439.8,286.4 447.1,295.2 452.9,304.0 458.7,313.4 464.5,317.1 470.0,322.1 476.8,326.7 484.7,330.4 493.8,332.0 502.9,334.3 513.1,334.6 518.8,336.1 525.6,337.7 531.3,340.8 538.1,347.6 543.7,349.0 549.4,345.9 556.2,342.0 563.0,332.9 568.7,322.1 574.4,315.9 578.9,303.4 581.7,300.0 590.0,293.5 595.7,286.7 601.3,279.9 605.3,277.1 610.4,275.9 617.2,273.1 622.9,271.7 628.6,268.0 635.4,263.8 640.0,261.8 647.8,257.2 654.6,254.4 660.3,252.1 666.0,251.0 671.1,250.4 673.9,249.1 679.0,244.4 684.4,243.7 688.7,240.8 691.9,237.1 696.8,231.6 702.1,222.1 706.3,211.6 710.5,199.0 714.7,188.4 720.0,182.1 724.2,173.7 727.4,165.3 732.6,157.9 737.9,149.5 743.2,141.1 747.4,136.4 752.6,134.7 760.0,134.7 766.3,136.8 772.6,140.0 775.0,141.0 782.1,139.2 789.2,140.0 795.0,139.5 800.6,137.5 806.3,137.5 812.0,136.8 817.7,140.7 824.9,145.7 829.9,147.1 834.8,150.6 839.1,153.5 843.4,154.2 849.1,158.5 854.8,164.9 860.5,170.3 867.6,174.2 874.7,176.6 880.4,174.9 886.1,175.6 891.8,172.7 897.5,170.3 904.7,170.9 911.8,170.9 917.5,169.5 924.6,166.3 931.7,164.2 938.9,160.6 942.0,158.5 947.8,153.8 952.6,152.8 959.5,148.0 965.3,144.1 972.1,139.2 977.9,134.3 982.8,131.4" fill="none" stroke="#3fc9cb" stroke-width="2.2" stroke-linejoin="round"/><line x1="733.2" y1="64.5" x2="1008" y2="81.2" stroke="#6b8be8" stroke-width="1.2"/><line x1="599.3" y1="300.8" x2="1007.8" y2="223.5" stroke="#fb5563" stroke-width="1.2"/><polygon points="730,53.2 736.7,53.2 733.35,59.3" fill="#008000"/><polygon points="968,67.9 974.9,67.9 971.45,74.3" fill="#008000"/><polygon points="596.4,310 602.9,310 599.6,303.6" fill="#ff0000"/><polygon points="858.2,260.3 864.5,260.3 861.4,254" fill="#ff0000"/></g><g clip-path="url(#cr)"><clipPath id="above"><rect x="0" y="465" width="1137" height="39.6"/></clipPath><polygon points="0.0,526.5 2.5,528.2 8.4,535.6 14.2,534.9 20.5,538.6 26.0,535.8 32.7,535.3 38.9,547.8 44.4,548.3 50.6,536.9 57.3,542.0 62.9,540.8 69.6,534.4 74.9,534.8 81.6,540.8 87.5,534.9 93.5,536.9 100.3,535.8 105.6,536.1 112.0,546.2 118.2,544.0 124.1,531.6 129.9,533.9 135.8,534.8 142.5,536.9 148.4,537.4 154.2,530.6 160.6,535.6 166.8,528.2 172.7,527.4 179.0,527.7 185.2,521.9 191.1,511.8 197.5,505.9 203.7,509.6 209.8,508.4 216.0,509.3 221.8,510.5 227.7,504.2 234.1,504.2 239.9,525.2 245.8,521.9 252.0,517.2 258.4,522.2 264.2,526.9 270.4,531.6 276.6,533.3 282.5,532.2 288.9,521.0 295.1,521.0 301.0,527.7 307.0,525.5 313.2,526.0 319.4,522.4 325.4,522.2 331.6,525.2 337.5,529.4 343.4,529.7 349.6,536.4 355.6,534.8 361.8,530.2 368.0,539.1 374.0,528.9 380.2,539.1 386.1,539.1 392.0,536.6 398.7,526.5 404.8,524.0 410.5,518.8 416.5,528.6 422.7,534.8 428.9,534.4 434.9,543.3 441.1,548.3 447.3,542.8 453.4,549.5 459.6,542.0 465.4,539.8 471.6,540.8 477.5,531.9 483.9,527.4 490.1,526.4 496.1,525.2 502.0,524.9 508.2,532.7 514.4,527.4 520.4,526.5 526.6,523.5 532.5,520.2 538.9,520.2 544.6,519.7 550.6,517.7 556.8,516.0 563.0,511.5 569.0,516.8 575.2,516.8 581.1,519.8 587.0,523.2 593.7,530.6 599.8,521.9 606.0,518.6 611.8,516.5 618.0,518.2 623.9,517.4 629.9,515.7 636.1,515.5 642.3,515.4 648.4,516.0 654.2,517.4 660.4,509.3 666.6,514.4 672.5,513.2 678.9,511.5 685.1,511.0 691.0,502.3 697.0,499.8 703.2,496.4 709.4,494.8 715.4,493.1 721.6,494.3 727.8,491.2 733.9,494.3 739.6,499.3 745.9,502.1 751.8,501.0 758.0,514.4 764.4,524.4 770.3,537.8 776.1,526.1 782.5,528.6 788.4,526.1 795.0,530.1 801.1,524.3 807.3,526.6 813.1,527.8 819.1,540.2 825.4,538.4 831.4,539.6 837.2,524.3 843.7,528.4 849.9,532.2 855.7,539.3 861.9,527.0 868.0,525.2 874.2,521.3 880.3,520.8 886.5,524.9 892.7,524.9 898.8,524.9 905.0,523.8 910.6,527.0 917.0,522.2 922.9,515.5 929.1,522.6 935.3,517.3 941.4,519.6 947.6,526.1 953.7,524.3 959.5,520.3 965.7,517.8 971.5,521.3 977.5,528.7 983.8,532.2 983.8,504.6 0.0,504.6" fill="#b2b2b2" clip-path="url(#above)"/><polyline points="0.0,526.5 2.5,528.2 8.4,535.6 14.2,534.9 20.5,538.6 26.0,535.8 32.7,535.3 38.9,547.8 44.4,548.3 50.6,536.9 57.3,542.0 62.9,540.8 69.6,534.4 74.9,534.8 81.6,540.8 87.5,534.9 93.5,536.9 100.3,535.8 105.6,536.1 112.0,546.2 118.2,544.0 124.1,531.6 129.9,533.9 135.8,534.8 142.5,536.9 148.4,537.4 154.2,530.6 160.6,535.6 166.8,528.2 172.7,527.4 179.0,527.7 185.2,521.9 191.1,511.8 197.5,505.9 203.7,509.6 209.8,508.4 216.0,509.3 221.8,510.5 227.7,504.2 234.1,504.2 239.9,525.2 245.8,521.9 252.0,517.2 258.4,522.2 264.2,526.9 270.4,531.6 276.6,533.3 282.5,532.2 288.9,521.0 295.1,521.0 301.0,527.7 307.0,525.5 313.2,526.0 319.4,522.4 325.4,522.2 331.6,525.2 337.5,529.4 343.4,529.7 349.6,536.4 355.6,534.8 361.8,530.2 368.0,539.1 374.0,528.9 380.2,539.1 386.1,539.1 392.0,536.6 398.7,526.5 404.8,524.0 410.5,518.8 416.5,528.6 422.7,534.8 428.9,534.4 434.9,543.3 441.1,548.3 447.3,542.8 453.4,549.5 459.6,542.0 465.4,539.8 471.6,540.8 477.5,531.9 483.9,527.4 490.1,526.4 496.1,525.2 502.0,524.9 508.2,532.7 514.4,527.4 520.4,526.5 526.6,523.5 532.5,520.2 538.9,520.2 544.6,519.7 550.6,517.7 556.8,516.0 563.0,511.5 569.0,516.8 575.2,516.8 581.1,519.8 587.0,523.2 593.7,530.6 599.8,521.9 606.0,518.6 611.8,516.5 618.0,518.2 623.9,517.4 629.9,515.7 636.1,515.5 642.3,515.4 648.4,516.0 654.2,517.4 660.4,509.3 666.6,514.4 672.5,513.2 678.9,511.5 685.1,511.0 691.0,502.3 697.0,499.8 703.2,496.4 709.4,494.8 715.4,493.1 721.6,494.3 727.8,491.2 733.9,494.3 739.6,499.3 745.9,502.1 751.8,501.0 758.0,514.4 764.4,524.4 770.3,537.8 776.1,526.1 782.5,528.6 788.4,526.1 795.0,530.1 801.1,524.3 807.3,526.6 813.1,527.8 819.1,540.2 825.4,538.4 831.4,539.6 837.2,524.3 843.7,528.4 849.9,532.2 855.7,539.3 861.9,527.0 868.0,525.2 874.2,521.3 880.3,520.8 886.5,524.9 892.7,524.9 898.8,524.9 905.0,523.8 910.6,527.0 917.0,522.2 922.9,515.5 929.1,522.6 935.3,517.3 941.4,519.6 947.6,526.1 953.7,524.3 959.5,520.3 965.7,517.8 971.5,521.3 977.5,528.7 983.8,532.2" fill="none" stroke="#333" stroke-width="1.3" stroke-linejoin="round"/></g><line x1="1138" y1="39" x2="1138" y2="592.6" stroke="#b9b9b9" stroke-width="2"/><line x1="0" y1="464.5" x2="1138" y2="464.5" stroke="#a8a8a8" stroke-width="1.5"/><line x1="0" y1="593.4" x2="1137.5" y2="593.4" stroke="#959595" stroke-width="1.1"/><line x1="29.8" y1="593" x2="29.8" y2="599" stroke="#8c8c8c" stroke-width="1.2"/><line x1="188.4" y1="593" x2="188.4" y2="599" stroke="#8c8c8c" stroke-width="1.2"/><line x1="353.0" y1="593" x2="353.0" y2="599" stroke="#8c8c8c" stroke-width="1.2"/><line x1="505.3" y1="593" x2="505.3" y2="599" stroke="#8c8c8c" stroke-width="1.2"/><line x1="669.9" y1="593" x2="669.9" y2="599" stroke="#8c8c8c" stroke-width="1.2"/><line x1="828.5" y1="593" x2="828.5" y2="599" stroke="#8c8c8c" stroke-width="1.2"/><line x1="974.3" y1="593" x2="974.3" y2="599" stroke="#8c8c8c" stroke-width="1.2"/><line x1="1138" y1="66" x2="1141" y2="66" stroke="#8c8c8c" stroke-width="1"/><text x="1143.3" y="69.5" class="ax">25,500</text><line x1="1138" y1="137.3" x2="1141" y2="137.3" stroke="#8c8c8c" stroke-width="1"/><text x="1143.3" y="140.8" class="ax">25,000</text><line x1="1138" y1="208.6" x2="1141" y2="208.6" stroke="#8c8c8c" stroke-width="1"/><text x="1143.3" y="212.1" class="ax">24,500</text><line x1="1138" y1="279.8" x2="1141" y2="279.8" stroke="#8c8c8c" stroke-width="1"/><text x="1143.3" y="283.3" class="ax">24,000</text><line x1="1138" y1="351.1" x2="1141" y2="351.1" stroke="#8c8c8c" stroke-width="1"/><text x="1143.3" y="354.6" class="ax">23,500</text><line x1="1138" y1="422.4" x2="1141" y2="422.4" stroke="#8c8c8c" stroke-width="1"/><text x="1143.3" y="425.9" class="ax">23,000</text><line x1="1138" y1="504.6" x2="1141" y2="504.6" stroke="#8c8c8c" stroke-width="1"/><text x="1143.3" y="507.70000000000005" class="ax">70</text><line x1="1138" y1="551.5" x2="1141" y2="551.5" stroke="#8c8c8c" stroke-width="1"/><text x="1143.3" y="554.1" class="ax">30</text><text x="29.8" y="609" class="xl" text-anchor="middle">Sept</text><text x="188.4" y="609" class="xl" text-anchor="middle">Oct</text><text x="353.0" y="609" class="xl" text-anchor="middle">Nov</text><text x="505.3" y="609" class="xl" text-anchor="middle">Dec</text><text x="828.5" y="609" class="xl" text-anchor="middle">Feb</text><text x="974.3" y="609" class="xl" text-anchor="middle">Mar</text><line x1="669.9" y1="602" x2="669.9" y2="612" stroke="#999" stroke-width="1" stroke-dasharray="1,3"/><text x="669.9" y="622" class="xl" text-anchor="middle">2026</text><path d="M1130.2,92.3 L1138.5,84.89999999999999 L1175.3,84.89999999999999 Q1177.3,84.89999999999999 1177.3,86.89999999999999 L1177.3,97.7 Q1177.3,99.7 1175.3,99.7 L1138.5,99.7 Z" fill="#fa861e"/><text x="1143.3" y="96.5" class="tg" fill="#1a1a1a">25,318</text><path d="M1130.2,131.5 L1138.5,124.1 L1175.3,124.1 Q1177.3,124.1 1177.3,126.1 L1177.3,136.9 Q1177.3,138.9 1175.3,138.9 L1138.5,138.9 Z" fill="#3ec8c8"/><text x="1143.3" y="135.7" class="tg" fill="#1a1a1a">25,042</text><path d="M1130.2,171.2 L1138.5,164.7 L1175.3,164.7 Q1177.3,164.7 1177.3,166.7 L1177.3,175.7 Q1177.3,177.7 1175.3,177.7 L1138.5,177.7 Z" fill="#fa861e"/><text x="1143.3" y="175.39999999999998" class="tg" fill="#1a1a1a">24,767</text><path d="M1130.2,157.7 L1138.5,150.29999999999998 L1190,150.29999999999998 Q1192,150.29999999999998 1192,152.29999999999998 L1192,163.1 Q1192,165.1 1190,165.1 L1138.5,165.1 Z" fill="#675cb0"/><text x="1143.3" y="161.89999999999998" class="tg" fill="#ffffff">24,860.00</text><path d="M1130.2,532.3 L1138.5,524.9 L1155.2,524.9 Q1157.2,524.9 1157.2,526.9 L1157.2,537.6999999999999 Q1157.2,539.6999999999999 1155.2,539.6999999999999 L1138.5,539.6999999999999 Z" fill="#000000"/><text x="1143.3" y="536.5" class="tg" fill="#ffffff">46</text></svg>
<div class="bl"></div>
<div class="mi" style="left:9px">Daily</div><svg class="ar" style="left:43.4px" viewBox="0 0 10 5"><path d="M0,0.2 L9.4,0.2 L4.7,4.6 Z" fill="#555"/></svg>
<div class="mi" style="left:72px">Technical</div><svg class="ar" style="left:131.4px" viewBox="0 0 10 5"><path d="M0,0.2 L9.4,0.2 L4.7,4.6 Z" fill="#555"/></svg>
<div class="mi" style="left:159.8px">Display</div><svg class="ar" style="left:207.2px" viewBox="0 0 10 5"><path d="M0,0.2 L9.4,0.2 L4.7,4.6 Z" fill="#555"/></svg>
<div class="mi" style="left:235.5px">More</div><svg class="ar" style="left:270.5px" viewBox="0 0 10 5"><path d="M0,0.2 L9.4,0.2 L4.7,4.6 Z" fill="#555"/></svg>
<svg style="position:absolute;left:298px;top:12px" width="15" height="14" viewBox="0 0 15 14">
<path d="M1.2,12.4 L1.2,2.4 Q1.2,1.5 2.1,1.5 L5.6,1.5 L7,3.2 L10.3,3.2 Q11,3.2 11,4 L11,5.7" fill="none" stroke="#444" stroke-width="1.1"/>
<path d="M5.8,6.3 L13.9,6.3 L11.4,12 L3,12 Z" fill="#333"/>
<path d="M1.2,12.3 L3,12.3" stroke="#444" stroke-width="1.1"/>
</svg>
<svg style="position:absolute;left:330px;top:11px" width="16" height="16" viewBox="330 11 16 16">
<path d="M332.4,12.5 L342,12.5 L344.3,14.8 L344.3,24.4 Q344.3,25.6 343.1,25.6 L332.4,25.6 Q331.2,25.6 331.2,24.4 L331.2,13.7 Q331.2,12.5 332.4,12.5 Z" fill="#303030"/>
<rect x="335" y="13.5" width="5.5" height="3.3" fill="#fff"/>
<rect x="338.8" y="14.2" width="1.2" height="1.6" fill="#303030"/>
<rect x="333.2" y="19.3" width="9.1" height="4.6" fill="#fff"/>
</svg>
<div style="position:absolute;left:362.1px;top:17px;width:14px;height:3.5px;background:#000"></div>
<div style="position:absolute;left:396.1px;top:17px;width:14px;height:3.5px;background:#000"></div>
<div style="position:absolute;left:401.4px;top:11.6px;width:3.5px;height:14.3px;background:#000"></div>
<div style="position:absolute;left:375.5px;top:29px;width:1px;height:9px;background:#d0d0d0"></div>
<div style="position:absolute;left:409px;top:29px;width:1px;height:9px;background:#d0d0d0"></div>
<div style="position:absolute;left:1188px;top:8px;width:1px;height:25.5px;background:#dedede"></div>
<div class="mi" style="left:12.9px;top:54.9px;font-size:10.7px;letter-spacing:0;color:#2e2e2e">GERMANY 40, DAILY</div>
<div style="position:absolute;left:0;top:395.6px;width:239px;height:23.1px;background:rgba(255,255,255,0.72)"></div>
<div class="lg" style="left:6.8px;top:402.1px"><b>VWAP</b></div><div class="lg n" style="left:37.5px;top:402.1px">20 1 2 3</div>
<div class="lg" style="left:116.5px;top:402.1px"><b style="letter-spacing:-0.3px">AUTO TREND</b></div><div class="lg n" style="left:181.6px;top:402.1px">1 9 4</div>
<div style="position:absolute;left:0;top:472px;width:95px;height:23px;background:rgba(255,255,255,0.72)"></div>
<div class="lg" style="left:7px;top:478.3px"><b style="letter-spacing:0">RSI</b></div><div class="lg n" style="left:25.3px;top:478.3px">14</div>
<svg style="position:absolute;left:78px;top:401.7px" width="12" height="12" viewBox="-6 -6 12 12"><rect x="-1.15" y="-5.3" width="2.3" height="2.5" transform="rotate(0)" fill="#999"/><rect x="-1.15" y="-5.3" width="2.3" height="2.5" transform="rotate(45)" fill="#999"/><rect x="-1.15" y="-5.3" width="2.3" height="2.5" transform="rotate(90)" fill="#999"/><rect x="-1.15" y="-5.3" width="2.3" height="2.5" transform="rotate(135)" fill="#999"/><rect x="-1.15" y="-5.3" width="2.3" height="2.5" transform="rotate(180)" fill="#999"/><rect x="-1.15" y="-5.3" width="2.3" height="2.5" transform="rotate(225)" fill="#999"/><rect x="-1.15" y="-5.3" width="2.3" height="2.5" transform="rotate(270)" fill="#999"/><rect x="-1.15" y="-5.3" width="2.3" height="2.5" transform="rotate(315)" fill="#999"/><circle r="4" fill="#999"/><circle r="1.9" fill="#fff"/></svg><svg style="position:absolute;left:93.8px;top:401.8px" width="12" height="12" viewBox="-6 -6 12 12"><path d="M-3.5,-3.5 L3.5,3.5 M3.5,-3.5 L-3.5,3.5" stroke="#999" stroke-width="2.6"/></svg><svg style="position:absolute;left:208px;top:401.7px" width="12" height="12" viewBox="-6 -6 12 12"><rect x="-1.15" y="-5.3" width="2.3" height="2.5" transform="rotate(0)" fill="#999"/><rect x="-1.15" y="-5.3" width="2.3" height="2.5" transform="rotate(45)" fill="#999"/><rect x="-1.15" y="-5.3" width="2.3" height="2.5" transform="rotate(90)" fill="#999"/><rect x="-1.15" y="-5.3" width="2.3" height="2.5" transform="rotate(135)" fill="#999"/><rect x="-1.15" y="-5.3" width="2.3" height="2.5" transform="rotate(180)" fill="#999"/><rect x="-1.15" y="-5.3" width="2.3" height="2.5" transform="rotate(225)" fill="#999"/><rect x="-1.15" y="-5.3" width="2.3" height="2.5" transform="rotate(270)" fill="#999"/><rect x="-1.15" y="-5.3" width="2.3" height="2.5" transform="rotate(315)" fill="#999"/><circle r="4" fill="#999"/><circle r="1.9" fill="#fff"/></svg><svg style="position:absolute;left:223.8px;top:401.8px" width="12" height="12" viewBox="-6 -6 12 12"><path d="M-3.5,-3.5 L3.5,3.5 M3.5,-3.5 L-3.5,3.5" stroke="#999" stroke-width="2.6"/></svg><svg style="position:absolute;left:39.7px;top:477.8px" width="12" height="12" viewBox="-6 -6 12 12"><rect x="-1.15" y="-5.3" width="2.3" height="2.5" transform="rotate(0)" fill="#999"/><rect x="-1.15" y="-5.3" width="2.3" height="2.5" transform="rotate(45)" fill="#999"/><rect x="-1.15" y="-5.3" width="2.3" height="2.5" transform="rotate(90)" fill="#999"/><rect x="-1.15" y="-5.3" width="2.3" height="2.5" transform="rotate(135)" fill="#999"/><rect x="-1.15" y="-5.3" width="2.3" height="2.5" transform="rotate(180)" fill="#999"/><rect x="-1.15" y="-5.3" width="2.3" height="2.5" transform="rotate(225)" fill="#999"/><rect x="-1.15" y="-5.3" width="2.3" height="2.5" transform="rotate(270)" fill="#999"/><rect x="-1.15" y="-5.3" width="2.3" height="2.5" transform="rotate(315)" fill="#999"/><circle r="4" fill="#999"/><circle r="1.9" fill="#fff"/></svg><svg style="position:absolute;left:55.6px;top:477.8px" width="12" height="12" viewBox="-6 -6 12 12"><path d="M-3.5,-3.5 L3.5,3.5 M3.5,-3.5 L-3.5,3.5" stroke="#999" stroke-width="2.6"/></svg><svg style="position:absolute;left:75.6px;top:477px" width="14" height="14" viewBox="-7 -7 14 14"><path d="M0,-5.5 L0,6 M-5.5,0 L0,-5.5 L5.5,0" stroke="#888" stroke-width="1.3" fill="none"/></svg>
</body></html>
